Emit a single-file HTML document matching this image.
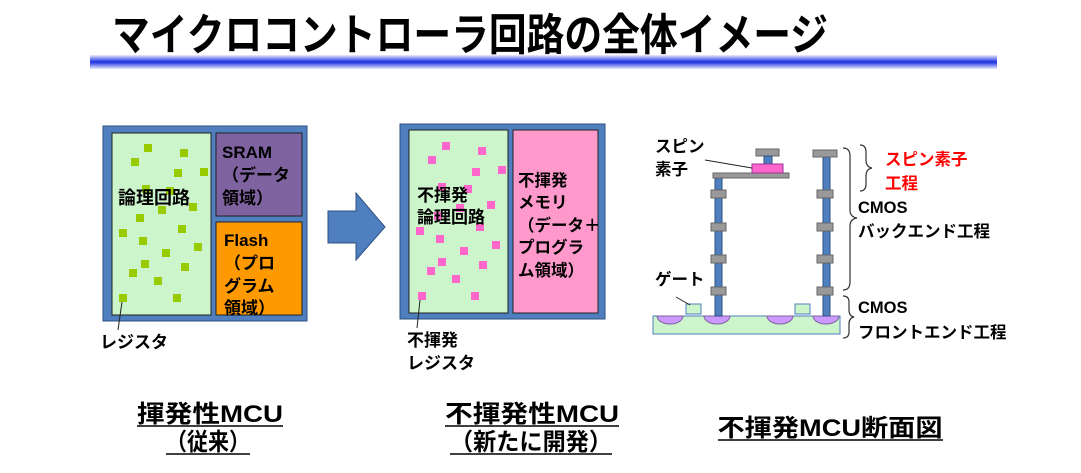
<!DOCTYPE html>
<html><head><meta charset="utf-8"><style>
html,body{margin:0;padding:0;background:#fff;}
svg{display:block;}
text{font-family:"Liberation Sans","Noto Sans CJK JP",sans-serif;font-weight:bold;}
</style></head><body>
<svg width="1081" height="473" viewBox="0 0 1081 473" xmlns="http://www.w3.org/2000/svg">
<defs>
<linearGradient id="bar" x1="0" y1="0" x2="0" y2="1">
<stop offset="0" stop-color="#e8ecff"/><stop offset="0.5" stop-color="#1a2fe0"/><stop offset="1" stop-color="#e8ecff"/>
</linearGradient>
</defs>
<text x="112" y="50" font-size="44" textLength="716" lengthAdjust="spacingAndGlyphs" fill="#000">マイクロコントローラ回路の全体イメージ</text>
<rect x="90" y="55" width="907" height="14" fill="url(#bar)"/>

<!-- left panel -->
<rect x="103" y="126" width="204" height="195" fill="#4f7fbf" stroke="#2d4f80"/>
<rect x="112" y="133" width="99" height="182" fill="#ccf5cc" stroke="#222"/>
<rect x="216" y="133" width="86" height="83" fill="#7f62a0" stroke="#222"/>
<rect x="216" y="222" width="86" height="93" fill="#ff9900" stroke="#222"/>
<g fill="#99cc00">
<rect x="144" y="144" width="8" height="8"/><rect x="180" y="149" width="8" height="8"/><rect x="131" y="158" width="8" height="8"/>
<rect x="174" y="169" width="8" height="8"/><rect x="200" y="168" width="8" height="8"/><rect x="142" y="185" width="8" height="8"/>
<rect x="166" y="187" width="8" height="8"/><rect x="158" y="206" width="8" height="8"/><rect x="189" y="203" width="8" height="8"/>
<rect x="136" y="214" width="8" height="8"/><rect x="119" y="229" width="8" height="8"/><rect x="178" y="225" width="8" height="8"/>
<rect x="139" y="237" width="8" height="8"/><rect x="194" y="243" width="8" height="8"/><rect x="162" y="249" width="8" height="8"/>
<rect x="141" y="260" width="8" height="8"/><rect x="181" y="263" width="8" height="8"/><rect x="129" y="269" width="8" height="8"/>
<rect x="154" y="277" width="8" height="8"/><rect x="119" y="294" width="8" height="8"/><rect x="173" y="294" width="8" height="8"/>
</g>
<text x="118" y="204" font-size="18">論理回路</text>
<text font-size="17"><tspan x="222" y="158">SRAM</tspan><tspan x="222" y="181">（データ</tspan><tspan x="222" y="204">領域）</tspan></text>
<text font-size="17"><tspan x="224" y="246">Flash</tspan><tspan x="224" y="269">（プロ</tspan><tspan x="224" y="292">グラム</tspan><tspan x="224" y="314">領域）</tspan></text>
<line x1="122" y1="302" x2="118" y2="330" stroke="#222"/>
<text x="100" y="348" font-size="17">レジスタ</text>

<!-- arrow -->
<polygon points="328,211 356,211 356,193 385,227 356,260 356,243 328,243" fill="#4f7fbf" stroke="#2d4f80"/>

<!-- middle panel -->
<rect x="400" y="124" width="205" height="195" fill="#4f7fbf" stroke="#2d4f80"/>
<rect x="409" y="130" width="99" height="183" fill="#ccf5cc" stroke="#222"/>
<rect x="513" y="130" width="85" height="183" fill="#ff99cc" stroke="#222"/>
<g fill="#ff66cc">
<rect x="442" y="142" width="8" height="8"/><rect x="478" y="147" width="8" height="8"/><rect x="428" y="156" width="8" height="8"/>
<rect x="472" y="168" width="8" height="8"/><rect x="498" y="166" width="8" height="8"/><rect x="438" y="183" width="8" height="8"/>
<rect x="464" y="185" width="8" height="8"/><rect x="456" y="204" width="8" height="8"/><rect x="487" y="201" width="8" height="8"/>
<rect x="434" y="212" width="8" height="8"/><rect x="416" y="227" width="8" height="8"/><rect x="476" y="223" width="8" height="8"/>
<rect x="436" y="235" width="8" height="8"/><rect x="492" y="241" width="8" height="8"/><rect x="460" y="247" width="8" height="8"/>
<rect x="438" y="258" width="8" height="8"/><rect x="479" y="261" width="8" height="8"/><rect x="427" y="267" width="8" height="8"/>
<rect x="452" y="275" width="8" height="8"/><rect x="418" y="292" width="8" height="8"/><rect x="471" y="292" width="8" height="8"/>
</g>
<text font-size="17"><tspan x="417" y="201">不揮発</tspan><tspan x="417" y="223">論理回路</tspan></text>
<text font-size="16.5"><tspan x="518" y="186">不揮発</tspan><tspan x="518" y="208">メモリ</tspan><tspan x="518" y="231">（データ＋</tspan><tspan x="518" y="253">プログラ</tspan><tspan x="518" y="276">ム領域）</tspan></text>
<line x1="420" y1="300" x2="417" y2="328" stroke="#222"/>
<text font-size="17"><tspan x="407" y="346">不揮発</tspan><tspan x="407" y="369">レジスタ</tspan></text>

<!-- cross-section -->
<rect x="653" y="316" width="187" height="18" fill="#ccf5cc" stroke="#4f7fbf"/>
<g fill="#cc99ff" stroke="#7f62a0">
<path d="M657,316 A13,8 0 0 0 683,316 Z"/><path d="M704,316 A13,8 0 0 0 730,316 Z"/>
<path d="M767,316 A13,8 0 0 0 793,316 Z"/><path d="M813,316 A13,8 0 0 0 839,316 Z"/>
</g>
<rect x="686" y="304" width="15" height="10" fill="#ccf5cc" stroke="#4f7fbf"/>
<rect x="795" y="304" width="15" height="10" fill="#ccf5cc" stroke="#4f7fbf"/>
<rect x="715" y="178" width="7" height="138" fill="#4f7fbf" stroke="#2d4f80"/>
<rect x="823" y="155" width="7" height="161" fill="#4f7fbf" stroke="#2d4f80"/>
<g fill="#999" stroke="#666">
<rect x="711" y="190" width="15" height="8"/><rect x="711" y="223" width="15" height="8"/><rect x="711" y="255" width="15" height="8"/><rect x="711" y="287" width="15" height="8"/>
<rect x="817" y="190" width="16" height="8"/><rect x="817" y="223" width="16" height="8"/><rect x="817" y="255" width="16" height="8"/><rect x="817" y="287" width="16" height="8"/>
<rect x="813" y="150" width="24" height="7"/>
<rect x="713" y="173" width="76" height="5"/>
<rect x="756" y="149" width="23" height="7"/>
</g>
<rect x="764" y="156" width="8" height="8" fill="#4f7fbf" stroke="#2d4f80"/>
<rect x="752" y="164" width="31" height="9" fill="#ff66cc" stroke="#993399"/>
<text font-size="16.5"><tspan x="655" y="152">スピン</tspan><tspan x="655" y="175">素子</tspan></text>
<line x1="705" y1="160" x2="752" y2="168" stroke="#222"/>
<text x="655" y="285" font-size="16.5">ゲート</text>
<line x1="676" y1="297" x2="690" y2="305" stroke="#222"/>

<g fill="none" stroke="#333" stroke-width="1.2">
<path d="M843,148 Q850,148 850,156 L850,210 Q850,217 857,218 Q850,219 850,226 L850,282 Q850,290 843,290"/>
<path d="M860,145 Q866,145 866,152 L866,160 Q866,167 872,168 Q866,169 866,176 L866,184 Q866,191 860,191"/>
<path d="M843,296 Q849,296 849,302 L849,310 Q849,316 854,317 Q849,318 849,324 L849,332 Q849,338 843,338"/>
</g>
<text font-size="16.5" fill="#ff0000"><tspan x="885" y="165">スピン素子</tspan><tspan x="885" y="189">工程</tspan></text>
<text font-size="16.5"><tspan x="858" y="213">CMOS</tspan><tspan x="858" y="237">バックエンド工程</tspan></text>
<text font-size="16.5"><tspan x="858" y="313">CMOS</tspan><tspan x="858" y="338">フロントエンド工程</tspan></text>

<!-- captions -->
<g font-size="24" text-anchor="middle">
<text x="210" y="422" textLength="146" lengthAdjust="spacingAndGlyphs">揮発性MCU</text>
<text x="208" y="450" textLength="84" lengthAdjust="spacingAndGlyphs">（従来）</text>
<text x="532" y="422" textLength="174" lengthAdjust="spacingAndGlyphs">不揮発性MCU</text>
<text x="531" y="450" textLength="162" lengthAdjust="spacingAndGlyphs">（新たに開発）</text>
<text x="830" y="436" textLength="225" lengthAdjust="spacingAndGlyphs">不揮発MCU断面図</text>
</g>
<g stroke="#000" stroke-width="1.5">
<line x1="137" y1="426" x2="283" y2="426"/><line x1="166" y1="454" x2="250" y2="454"/>
<line x1="445" y1="426" x2="619" y2="426"/><line x1="450" y1="454" x2="612" y2="454"/>
<line x1="718" y1="440" x2="943" y2="440"/>
</g>
</svg>
</body></html>
